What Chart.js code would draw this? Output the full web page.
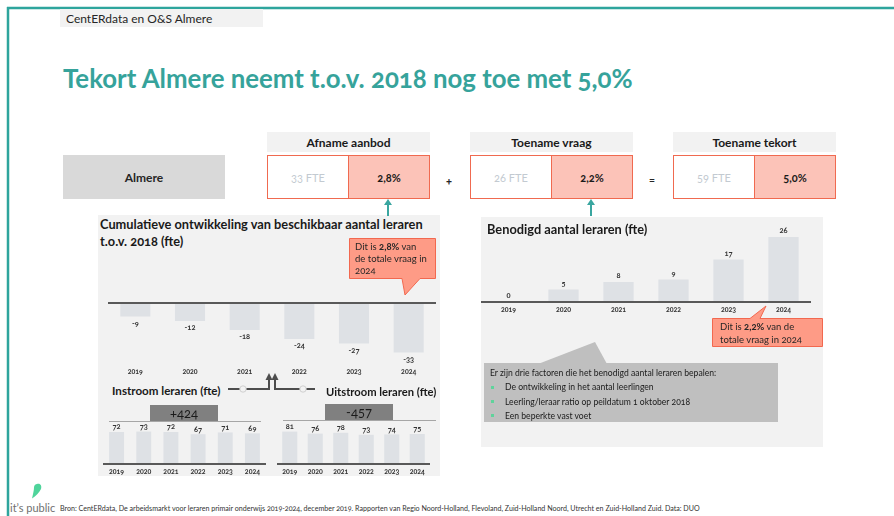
<!DOCTYPE html>
<html><head><meta charset="utf-8">
<script src="https://cdn.jsdelivr.net/npm/chart.js@4.4.1/dist/chart.umd.min.js"></script>
<style>
html,body{margin:0;padding:0;background:#fff;}
body{width:894px;height:516px;position:relative;overflow:hidden;font-family:Lato,"Open Sans",sans-serif;color:#262626;font-feature-settings:"onum" 1;}
.a{position:absolute;white-space:nowrap;}
canvas{position:absolute;z-index:2;}
svg{position:absolute;left:0;top:0;}
.box{position:absolute;box-sizing:border-box;display:flex;align-items:center;justify-content:center;white-space:nowrap;}
</style></head><body>
<script>
// ---- data ----
const years = ['2019','2020','2021','2022','2023','2024'];
const cumulatief = [-9,-12,-18,-24,-27,-33];
const benodigd = [0,5,8,9,17,26];
const instroom = [72,73,72,67,71,69];
const uitstroom = [81,76,78,73,74,75];
const instroomTotaal = '+424';
const uitstroomTotaal = '-457';
const kpiTitles = ['Afname aanbod','Toename vraag','Toename tekort'];
const kpiFte = ['33 FTE','26 FTE','59 FTE'];
const kpiPct = ['2,8%','2,2%','5,0%'];
const factoren = ['De ontwikkeling in het aantal leerlingen','Leerling/leraar ratio op peildatum 1 oktober 2018','Een beperkte vast voet'];
</script>

<svg width="894" height="516" style="z-index:0">
  <rect x="98" y="215" width="342" height="261" fill="#f2f2f2"/>
  <rect x="481" y="217" width="342" height="230" fill="#f2f2f2"/>
  <line x1="7" y1="8" x2="894" y2="8" stroke="#2ea59d" stroke-width="2.5"/>
  <line x1="8" y1="7" x2="8" y2="516" stroke="#2ea59d" stroke-width="2.5"/>
  <line x1="388" y1="216" x2="388" y2="204" stroke="#3aa6a0" stroke-width="2"/>
  <polygon points="384,205 392,205 388,199" fill="#3aa6a0"/>
  <line x1="591" y1="216" x2="591" y2="204" stroke="#3aa6a0" stroke-width="2"/>
  <polygon points="587,205 595,205 591,199" fill="#3aa6a0"/>
  <polygon points="538,364 595,342 607,364" fill="#bfbfbf"/>
  <rect x="484" y="363" width="294" height="59" fill="#bfbfbf"/>
  <g stroke="#4d4d4d" stroke-width="2" fill="none">
    <polyline points="228,389 269,389 269,379"/>
    <polyline points="315,389 275,389 275,379"/>
  </g>
  <polygon points="265.5,380 272.5,380 269,373" fill="#4d4d4d"/>
  <polygon points="271.5,380 278.5,380 275,373" fill="#4d4d4d"/>
  <circle cx="243" cy="389" r="3.2" fill="#f2f2f2" stroke="#d0d0d0" stroke-width="1"/>
  <circle cx="303" cy="389" r="3.2" fill="#f2f2f2" stroke="#d0d0d0" stroke-width="1"/>
  <line x1="109" y1="421.5" x2="261" y2="421.5" stroke="#a6a6a6" stroke-width="1"/>
  <line x1="283" y1="420.5" x2="436" y2="420.5" stroke="#a6a6a6" stroke-width="1"/>
  <path d="M37,484 C40.5,483 42,486 41,489 C39,493 36,496 32,498.5 C33,494 34,490 34,487.5 C34,485.5 35.5,484 37,484 Z" fill="#4fd49b"/>
</svg>

<svg width="894" height="516" style="z-index:4;pointer-events:none">
  <path d="M349.5,238.5 H435.5 V278.5 H420 L405,295 L402,278.5 H349.5 Z" fill="#fe9b86" stroke="#f2684f" stroke-width="1"/>
  <path d="M712.5,318.5 H750 L766,306 L760,318.5 H822.5 V346.5 H712.5 Z" fill="#fe9b86" stroke="#f2684f" stroke-width="1"/>
</svg>

<div class="box" style="left:60px;top:9px;width:203px;height:18px;background:#f2f2f2;justify-content:flex-start;padding-left:6px;font-size:12px;color:#262626;z-index:1">CentERdata en O&amp;S Almere</div>
<div class="a" id="title" style="left:63px;top:63px;font-size:25.8px;line-height:30px;font-weight:700;color:#36a39b;z-index:3">Tekort Almere neemt t.o.v. 2018 nog toe met 5,0%</div>

<div class="box" style="left:63px;top:155px;width:162px;height:44px;background:#d9d9d9;font-size:12px;font-weight:700;z-index:1">Almere</div>
<div class="a" style="left:446px;top:174px;font-size:11px;font-weight:700;z-index:3">+</div>
<div class="a" style="left:649px;top:173px;font-size:11px;font-weight:700;z-index:3">=</div>
<div id="kpis"></div>

<div class="a" style="left:100px;top:216px;font-size:12.8px;line-height:17px;font-weight:700;color:#1a1a1a;z-index:3">Cumulatieve ontwikkeling van beschikbaar aantal leraren<br>t.o.v. 2018 (fte)</div>
<div class="a" style="left:355px;top:241px;font-size:9.5px;line-height:12px;color:#262626;z-index:5">Dit is <b>2,8%</b> van<br>de totale vraag in<br>2024</div>

<div class="a" style="left:487px;top:221px;font-size:12.8px;line-height:17px;font-weight:700;color:#1a1a1a;z-index:3">Benodigd aantal leraren (fte)</div>
<div class="a" style="left:720px;top:320px;font-size:9.5px;line-height:13px;color:#262626;z-index:5">Dit is <b>2,2%</b> van de<br>totale vraag in 2024</div>

<div class="a" style="left:112px;top:382px;font-size:11.6px;line-height:17px;font-weight:700;color:#1a1a1a;z-index:3">Instroom leraren (fte)</div>
<div class="a" style="left:326px;top:383px;font-size:11.2px;line-height:17px;font-weight:700;color:#1a1a1a;z-index:3">Uitstroom leraren (fte)</div>
<div class="box" id="tin" style="left:150px;top:405px;width:68px;height:16px;background:#808080;font-size:13px;color:#1a1a1a;z-index:3"></div>
<div class="box" id="tuit" style="left:325px;top:404px;width:68px;height:16px;background:#808080;font-size:13px;color:#1a1a1a;z-index:3"></div>

<div class="a" id="fact" style="left:490px;top:366px;font-size:8.6px;line-height:14.3px;color:#1a1a1a;z-index:3"></div>

<div class="a" style="left:10px;top:500px;font-size:11px;line-height:16px;color:#6f6f6f;z-index:3">it’s public</div>
<div class="a" style="left:60px;top:504px;font-size:7.1px;line-height:9px;color:#333;z-index:3">Bron: CentERdata, De arbeidsmarkt voor leraren primair onderwijs 2019-2024, december 2019. Rapporten van Regio Noord-Holland, Flevoland, Zuid-Holland Noord, Utrecht en Zuid-Holland Zuid. Data: DUO</div>

<canvas id="cA" width="328" height="84" style="left:108px;top:296px"></canvas>
<canvas id="cB" width="330" height="100" style="left:481px;top:220px"></canvas>
<canvas id="cC" width="163" height="64" style="left:103px;top:418px"></canvas>
<canvas id="cD" width="153" height="64" style="left:277px;top:418px"></canvas>

<script>
(function(){
  const xs=[267,470,673];
  let h='';
  for(let i=0;i<3;i++){
    const x=xs[i];
    h+=`<div class="box" style="left:${x}px;top:132px;width:163px;height:20px;background:#f2f2f2;font-size:12px;font-weight:700;color:#1a1a1a;z-index:1">${kpiTitles[i]}</div>`;
    h+=`<div class="box" style="left:${x}px;top:155px;width:81px;height:44px;background:#fff;border:1.5px solid #f06a50;border-right:none;font-size:11px;color:#c3cad1;z-index:1">${kpiFte[i]}</div>`;
    h+=`<div class="box" style="left:${x+81}px;top:155px;width:82px;height:44px;background:#fcc3b8;border:1.5px solid #f06a50;font-size:11px;font-weight:700;color:#1a1a1a;z-index:1">${kpiPct[i]}</div>`;
  }
  document.getElementById('kpis').innerHTML=h;
  document.getElementById('tin').textContent=instroomTotaal;
  document.getElementById('tuit').textContent=uitstroomTotaal;
  document.getElementById('fact').innerHTML='Er zijn drie factoren die het benodigd aantal leraren bepalen:<br>'+
    factoren.map(f=>'<span style="display:inline-block;width:3px;height:3px;background:#5fd39b;margin:0 11px 2px 1px;vertical-align:middle"></span>'+f).join('<br>');
})();

function makeBar(id, data, o){
  const plug={
    id:'deco'+id,
    afterDatasetsDraw(chart){
      const c=chart.ctx, a=chart.chartArea, y0=chart.scales.y.getPixelForValue(0);
      c.save();
      c.strokeStyle='#595959'; c.lineWidth=o.lw;
      c.beginPath(); c.moveTo(a.left,y0); c.lineTo(a.right,y0); c.stroke();
      c.fillStyle='#333'; c.font='bold 7.5px Lato'; c.textAlign='center'; c.textBaseline='middle';
      chart.getDatasetMeta(0).data.forEach((el,i)=>{
        const v=data[i];
        const ty = v<0 ? el.y+o.off : el.y-o.off;
        c.fillText(String(v), el.x, ty);
      });
      c.restore();
    }
  };
  return new Chart(document.getElementById(id),{
    type:'bar',
    data:{labels:years,datasets:[{data:data,backgroundColor:'#dee1e5',borderWidth:0,barPercentage:o.bp,categoryPercentage:1}]},
    options:{
      responsive:false,animation:false,devicePixelRatio:1,
      layout:{padding:{top:o.pt,left:0,right:0,bottom:0}},
      plugins:{legend:{display:false},tooltip:{enabled:false}},
      scales:{
        x:{grid:{display:false,drawTicks:false},border:{display:false},
           ticks:{padding:o.tp,color:'#333',font:{family:'Lato',size:7,weight:'bold'},maxRotation:0,autoSkip:false},
           afterFit:s=>{s.height=o.ah;}},
        y:{display:false,min:o.min,max:o.max}
      }
    },
    plugins:[plug]
  });
}
makeBar('cA',cumulatief,{bp:0.55,pt:7,ah:17,tp:5,min:-40,max:0,lw:2,off:7});
makeBar('cB',benodigd,{bp:0.55,pt:7,ah:18,tp:4,min:0,max:30,lw:2,off:6});
makeBar('cC',instroom,{bp:0.55,pt:10,ah:18,tp:4,min:0,max:81,lw:2,off:5});
makeBar('cD',uitstroom,{bp:0.59,pt:10,ah:18,tp:4,min:0,max:90,lw:2,off:5});
</script>
</body></html>
